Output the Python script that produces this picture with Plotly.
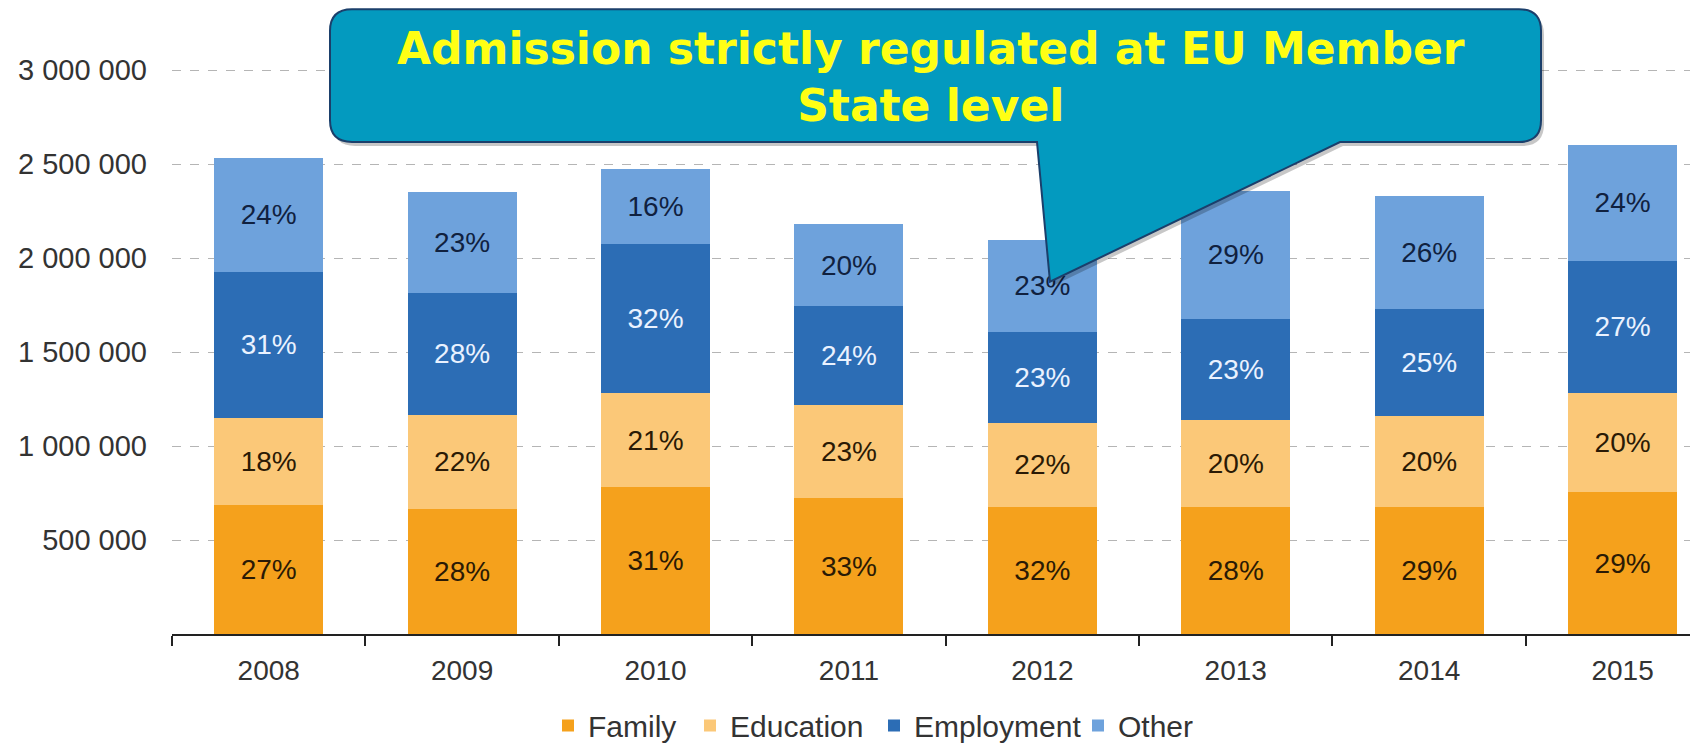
import plotly.graph_objects as go

# ---- data ----
years = ["2008", "2009", "2010", "2011", "2012", "2013", "2014", "2015"]
family = [687000, 666000, 780000, 722000, 675000, 675000, 675000, 754000]
education = [463000, 501000, 501000, 494000, 449000, 462000, 485000, 529000]
employment = [778000, 646000, 796000, 527000, 482000, 538000, 571000, 702000]
other = [606000, 538000, 399000, 436000, 492000, 684000, 597000, 619000]

family_pct = ["27%", "28%", "31%", "33%", "32%", "28%", "29%", "29%"]
education_pct = ["18%", "22%", "21%", "23%", "22%", "20%", "20%", "20%"]
employment_pct = ["31%", "28%", "32%", "24%", "23%", "23%", "25%", "27%"]
other_pct = ["24%", "23%", "16%", "20%", "23%", "29%", "26%", "24%"]

y_ticks = [500000, 1000000, 1500000, 2000000, 2500000, 3000000]
y_max = 3150000

callout_text = "Admission strictly regulated at EU Member<br>State level"

# ---- layout geometry (figure pixels; page adds an 8px body margin) ----
W, H = 1690, 744
PL, PB, Y3M = 164, 636, 63
PT = PB - (PB - Y3M) * y_max / 3000000
PW, PH = W - PL, PB - PT

def px(x):
    return (x - PL) / PW

def py(y):
    return (PB - y) / PH

FONT = "Liberation Sans, Arial, sans-serif"

series = [
    ("Family", family, family_pct, "#F5A11C", "#2a1a05", 97),
    ("Education", education, education_pct, "#FBC878", "#2a1a05", 139),
    ("Employment", employment, employment_pct, "#2C6DB5", "#EAF2FF", 159),
    ("Other", other, other_pct, "#6EA2DC", "#10213F", 75),
]

fig = go.Figure()
for name, vals, pct, color, tcolor, lw in series:
    fig.add_trace(go.Bar(
        x=years, y=vals, name=name, text=pct,
        marker=dict(color=color, line=dict(width=0)),
        textposition="inside", insidetextanchor="middle",
        textfont=dict(family=FONT, size=28, color=tcolor),
        textangle=0, hoverinfo="skip", legendwidth=lw,
    ))

# callout bubble path
L, R, T, B, r = 322, 1533, 1, 136, 22
pl_, pr_, tipx, tipy = 1029, 1332, 1042, 278

def bubble(dx=0, dy=0):
    def P(x, y):
        return f"{px(x + dx):.5f},{py(y + dy):.5f}"
    return (f"M {P(L + r, T)} L {P(R - r, T)} Q {P(R, T)} {P(R, T + r)} "
            f"L {P(R, B - r)} Q {P(R, B)} {P(R - r, B)} L {P(pr_, B)} "
            f"L {P(tipx, tipy)} L {P(pl_, B)} L {P(L + r, B)} "
            f"Q {P(L, B)} {P(L, B - r)} L {P(L, T + r)} Q {P(L, T)} {P(L + r, T)} Z")

shapes = [
    dict(type="path", xref="paper", yref="paper", path=bubble(3, 4),
         fillcolor="rgba(0,0,0,0.22)", line=dict(width=0), layer="above"),
    dict(type="path", xref="paper", yref="paper", path=bubble(),
         fillcolor="#039ABF", line=dict(color="#1B3F6B", width=2), layer="above"),
]

fig.update_layout(
    width=W, height=H,
    margin=dict(l=PL, r=0, t=PT, b=H - PB, pad=0),
    paper_bgcolor="white", plot_bgcolor="white",
    barmode="stack", bargap=0.436,
    separators=". ",
    font=dict(family=FONT, size=28, color="#333333"),
    showlegend=True,
    legend=dict(orientation="h", x=px(540), xanchor="left",
                y=py(729), yanchor="middle",
                font=dict(family=FONT, size=30, color="#333333"),
                itemwidth=30, traceorder="normal",
                bgcolor="rgba(0,0,0,0)"),
    xaxis=dict(type="category", range=[-0.5, 7.39],
               showline=True, linecolor="#222222", linewidth=2,
               ticks="outside", tickson="boundaries", ticklen=10,
               tickwidth=2, tickcolor="#222222",
               showgrid=False, zeroline=False,
               ticklabelstandoff=10,
               tickfont=dict(family=FONT, size=28, color="#333333")),
    yaxis=dict(range=[0, y_max], tickvals=y_ticks, tickformat=",d",
               showgrid=True, gridcolor="#B5B5B5", griddash="dash", gridwidth=1,
               zeroline=False, showline=False, ticks="",
               ticklabelstandoff=24,
               tickfont=dict(family=FONT, size=29, color="#333333")),
    shapes=shapes,
    annotations=[dict(
        xref="paper", yref="paper", x=px(923), y=py(70),
        xanchor="center", yanchor="middle", showarrow=False,
        text=callout_text, align="center",
        font=dict(family="DejaVu Sans", size=44, color="#FFFF14", weight="bold"),
    )],
)

fig.write_html("out.html")
